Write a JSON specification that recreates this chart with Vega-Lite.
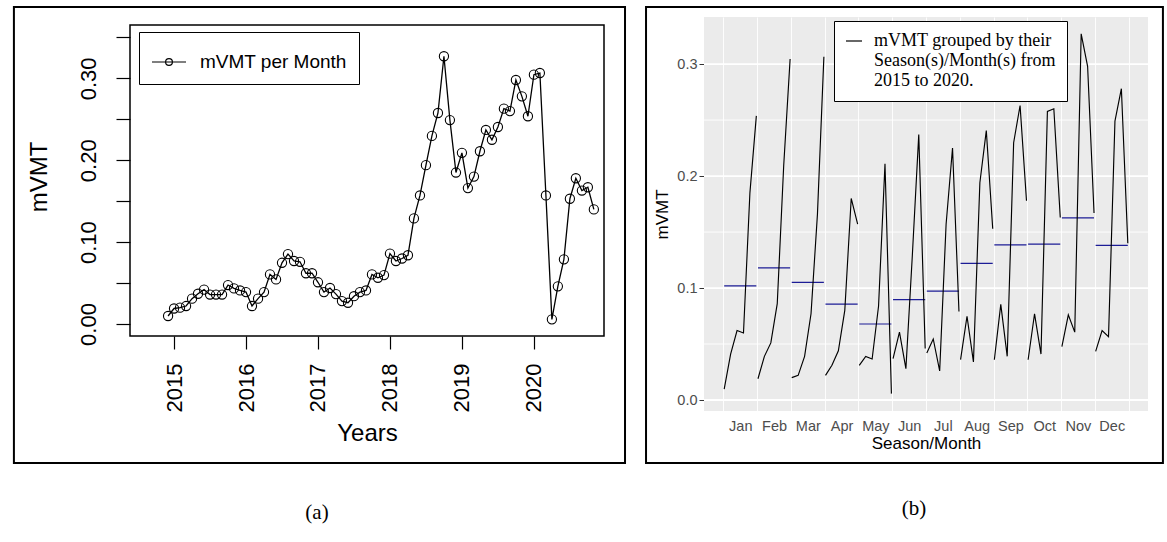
{
  "$schema": "https://vega.github.io/schema/vega-lite/v6.json",
  "background": "white",
  "padding": {"left": 12, "top": 6, "right": 0, "bottom": 0},
  "spacing": 100,
  "bounds": "flush",
  "datasets": {
    "m": [
      {"t": 2014.917, "month": "Jan", "year": 2015, "v": 0.0098},
      {"t": 2015.0, "month": "Feb", "year": 2015, "v": 0.019},
      {"t": 2015.083, "month": "Mar", "year": 2015, "v": 0.020},
      {"t": 2015.167, "month": "Apr", "year": 2015, "v": 0.022},
      {"t": 2015.25, "month": "May", "year": 2015, "v": 0.031},
      {"t": 2015.333, "month": "Jun", "year": 2015, "v": 0.037},
      {"t": 2015.417, "month": "Jul", "year": 2015, "v": 0.042},
      {"t": 2015.5, "month": "Aug", "year": 2015, "v": 0.036},
      {"t": 2015.583, "month": "Sep", "year": 2015, "v": 0.036},
      {"t": 2015.667, "month": "Oct", "year": 2015, "v": 0.036},
      {"t": 2015.75, "month": "Nov", "year": 2015, "v": 0.0476},
      {"t": 2015.833, "month": "Dec", "year": 2015, "v": 0.0435},
      {"t": 2015.917, "month": "Jan", "year": 2016, "v": 0.041},
      {"t": 2016.0, "month": "Feb", "year": 2016, "v": 0.039},
      {"t": 2016.083, "month": "Mar", "year": 2016, "v": 0.022},
      {"t": 2016.167, "month": "Apr", "year": 2016, "v": 0.031},
      {"t": 2016.25, "month": "May", "year": 2016, "v": 0.039},
      {"t": 2016.333, "month": "Jun", "year": 2016, "v": 0.0606},
      {"t": 2016.417, "month": "Jul", "year": 2016, "v": 0.0545},
      {"t": 2016.5, "month": "Aug", "year": 2016, "v": 0.0748},
      {"t": 2016.583, "month": "Sep", "year": 2016, "v": 0.0854},
      {"t": 2016.667, "month": "Oct", "year": 2016, "v": 0.077},
      {"t": 2016.75, "month": "Nov", "year": 2016, "v": 0.076},
      {"t": 2016.833, "month": "Dec", "year": 2016, "v": 0.062},
      {"t": 2016.917, "month": "Jan", "year": 2017, "v": 0.062},
      {"t": 2017.0, "month": "Feb", "year": 2017, "v": 0.051},
      {"t": 2017.083, "month": "Mar", "year": 2017, "v": 0.039},
      {"t": 2017.167, "month": "Apr", "year": 2017, "v": 0.044},
      {"t": 2017.25, "month": "May", "year": 2017, "v": 0.0366},
      {"t": 2017.333, "month": "Jun", "year": 2017, "v": 0.028},
      {"t": 2017.417, "month": "Jul", "year": 2017, "v": 0.026},
      {"t": 2017.5, "month": "Aug", "year": 2017, "v": 0.034},
      {"t": 2017.583, "month": "Sep", "year": 2017, "v": 0.039},
      {"t": 2017.667, "month": "Oct", "year": 2017, "v": 0.041},
      {"t": 2017.75, "month": "Nov", "year": 2017, "v": 0.0606},
      {"t": 2017.833, "month": "Dec", "year": 2017, "v": 0.0565},
      {"t": 2017.917, "month": "Jan", "year": 2018, "v": 0.0598},
      {"t": 2018.0, "month": "Feb", "year": 2018, "v": 0.086},
      {"t": 2018.083, "month": "Mar", "year": 2018, "v": 0.077},
      {"t": 2018.167, "month": "Apr", "year": 2018, "v": 0.080},
      {"t": 2018.25, "month": "May", "year": 2018, "v": 0.084},
      {"t": 2018.333, "month": "Jun", "year": 2018, "v": 0.129},
      {"t": 2018.417, "month": "Jul", "year": 2018, "v": 0.157},
      {"t": 2018.5, "month": "Aug", "year": 2018, "v": 0.194},
      {"t": 2018.583, "month": "Sep", "year": 2018, "v": 0.2297},
      {"t": 2018.667, "month": "Oct", "year": 2018, "v": 0.2577},
      {"t": 2018.75, "month": "Nov", "year": 2018, "v": 0.327},
      {"t": 2018.833, "month": "Dec", "year": 2018, "v": 0.249},
      {"t": 2018.917, "month": "Jan", "year": 2019, "v": 0.185},
      {"t": 2019.0, "month": "Feb", "year": 2019, "v": 0.209},
      {"t": 2019.083, "month": "Mar", "year": 2019, "v": 0.166},
      {"t": 2019.167, "month": "Apr", "year": 2019, "v": 0.180},
      {"t": 2019.25, "month": "May", "year": 2019, "v": 0.211},
      {"t": 2019.333, "month": "Jun", "year": 2019, "v": 0.237},
      {"t": 2019.417, "month": "Jul", "year": 2019, "v": 0.225},
      {"t": 2019.5, "month": "Aug", "year": 2019, "v": 0.2406},
      {"t": 2019.583, "month": "Sep", "year": 2019, "v": 0.263},
      {"t": 2019.667, "month": "Oct", "year": 2019, "v": 0.260},
      {"t": 2019.75, "month": "Nov", "year": 2019, "v": 0.298},
      {"t": 2019.833, "month": "Dec", "year": 2019, "v": 0.278},
      {"t": 2019.917, "month": "Jan", "year": 2020, "v": 0.2537},
      {"t": 2020.0, "month": "Feb", "year": 2020, "v": 0.3045},
      {"t": 2020.083, "month": "Mar", "year": 2020, "v": 0.3065},
      {"t": 2020.167, "month": "Apr", "year": 2020, "v": 0.157},
      {"t": 2020.25, "month": "May", "year": 2020, "v": 0.0057},
      {"t": 2020.333, "month": "Jun", "year": 2020, "v": 0.046},
      {"t": 2020.417, "month": "Jul", "year": 2020, "v": 0.079},
      {"t": 2020.5, "month": "Aug", "year": 2020, "v": 0.153},
      {"t": 2020.583, "month": "Sep", "year": 2020, "v": 0.178},
      {"t": 2020.667, "month": "Oct", "year": 2020, "v": 0.163},
      {"t": 2020.75, "month": "Nov", "year": 2020, "v": 0.167},
      {"t": 2020.833, "month": "Dec", "year": 2020, "v": 0.140}
    ]
  },
  "resolve": {"scale": {"color": "independent"}, "legend": {"color": "independent"}},
  "hconcat": [
    {
      "width": 474,
      "height": 319,
      "view": {"stroke": null, "fill": "white"},
      "title": {"text": "(a)", "orient": "bottom", "frame": "group", "anchor": "middle", "dx": -50, "font": "Liberation Serif", "fontSize": 21, "fontWeight": "normal", "color": "black", "offset": 38},
      "layer": [
        {
          "data": {"values": [{}]},
          "mark": {"type": "rect", "fill": "white", "fillOpacity": 0, "stroke": "black", "strokeWidth": 2},
          "encoding": {
            "x": {"datum": 2012.775, "type": "quantitative"},
            "x2": {"datum": 2021.266},
            "y": {"datum": 0.3871, "type": "quantitative"},
            "y2": {"datum": -0.1697}
          }
        },
        {
          "data": {"values": [{}]},
          "mark": {"type": "rect", "fill": "white", "fillOpacity": 0, "stroke": "black", "strokeWidth": 2},
          "encoding": {
            "x": {"datum": 2021.558, "type": "quantitative"},
            "x2": {"datum": 2028.740},
            "y": {"datum": 0.3871, "type": "quantitative"},
            "y2": {"datum": -0.1697}
          }
        },
        {
          "data": {"values": [{}]},
          "mark": {"type": "rect", "fill": "white", "fillOpacity": 0, "stroke": "black", "strokeWidth": 1.5},
          "encoding": {
            "x": {"datum": 2014.388, "type": "quantitative"},
            "x2": {"datum": 2020.974},
            "y": {"datum": 0.3651, "type": "quantitative"},
            "y2": {"datum": -0.0146}
          }
        },
        {
          "data": {"name": "m"},
          "mark": {"type": "line", "strokeWidth": 1.3},
          "encoding": {
            "x": {
              "field": "t", "type": "quantitative",
              "scale": {"domain": [2014.388, 2020.974], "nice": false, "zero": false},
              "axis": {
                "values": [2015, 2016, 2017, 2018, 2019, 2020], "format": "d",
                "labelAngle": 270, "labelFont": "Liberation Sans", "labelFontSize": 22, "labelColor": "black",
                "labelPadding": 14, "labelOverlap": false, "labelFlush": false,
                "tickSize": 13, "tickColor": "black", "tickWidth": 1.2,
                "domain": false, "grid": false,
                "title": "Years", "titleFont": "Liberation Sans", "titleFontSize": 24, "titleFontWeight": "normal", "titleColor": "black", "titlePadding": 10
              }
            },
            "y": {
              "field": "v", "type": "quantitative",
              "scale": {"domain": [-0.0146, 0.3749], "nice": false, "zero": false},
              "axis": {
                "values": [0, 0.05, 0.1, 0.15, 0.2, 0.25, 0.3, 0.35],
                "labelExpr": "round(datum.value*20) % 2 == 0 ? format(datum.value, '.2f') : ''",
                "labelAngle": 270, "labelAlign": "center", "labelBaseline": "bottom",
                "labelFont": "Liberation Sans", "labelFontSize": 22, "labelColor": "black",
                "labelPadding": 16, "labelOverlap": false, "labelFlush": false,
                "tickSize": 14, "tickColor": "black", "tickWidth": 1.2,
                "domain": false, "grid": false,
                "title": "mVMT", "titleFont": "Liberation Sans", "titleFontSize": 24, "titleFontWeight": "normal", "titleColor": "black", "titlePadding": 26
              }
            },
            "color": {
              "datum": "mVMT per Month", "type": "nominal",
              "scale": {"range": ["black"]},
              "legend": {
                "title": null, "orient": "none", "legendX": 9, "legendY": 15,
                "strokeColor": "black", "fillColor": "white", "padding": 12,
                "symbolType": "M-1,0L1,0M0.2,0A0.2,0.2,0,1,0,-0.2,0A0.2,0.2,0,1,0,0.2,0",
                "symbolSize": 1156, "symbolStrokeWidth": 1.2, "symbolStrokeColor": "black", "symbolFillColor": "transparent",
                "labelFont": "Liberation Sans", "labelFontSize": 19, "labelColor": "black", "labelOffset": 13, "labelLimit": 400
              }
            }
          }
        },
        {
          "data": {"name": "m"},
          "mark": {"type": "point", "shape": "circle", "filled": false, "size": 85, "strokeWidth": 1.1, "opacity": 1},
          "encoding": {
            "x": {"field": "t", "type": "quantitative"},
            "y": {"field": "v", "type": "quantitative"},
            "color": {"datum": "mVMT per Month", "type": "nominal"}
          }
        }
      ]
    },
    {
      "width": 444,
      "height": 394,
      "view": {"stroke": null, "fill": "#EBEBEB"},
      "title": {"text": "(b)", "orient": "bottom", "frame": "group", "anchor": "middle", "dx": -12, "font": "Liberation Serif", "fontSize": 21, "fontWeight": "normal", "color": "black", "offset": 46},
      "layer": [
        {
          "data": {"values": [{"g": 0.05}, {"g": 0.15}, {"g": 0.25}]},
          "mark": {"type": "rule", "color": "white", "strokeWidth": 0.9},
          "encoding": {
            "y": {
              "field": "g", "type": "quantitative",
              "scale": {"domain": [-0.0098, 0.342], "nice": false, "zero": false},
              "axis": {
                "tickCount": 7,
                "labelExpr": "round(datum.value*20) % 2 == 0 ? format(datum.value, '.1f') : ''",
                "grid": false,
                "tickOpacity": {"condition": {"test": "round(datum.value*20) % 2 == 0", "value": 1}, "value": 0},
                "tickColor": "#333333", "tickSize": 5, "tickWidth": 1,
                "domain": false,
                "labelColor": "#4D4D4D", "labelFont": "Liberation Sans", "labelFontSize": 14.5, "labelPadding": 2,
                "title": "mVMT", "titleFont": "Liberation Sans", "titleFontSize": 17, "titleFontWeight": "normal", "titleColor": "black", "titlePadding": 5
              }
            }
          }
        },
        {
          "data": {"values": [{"g": 0}, {"g": 0.1}, {"g": 0.2}, {"g": 0.3}]},
          "mark": {"type": "rule", "color": "white", "strokeWidth": 1.8},
          "encoding": {
            "y": {
              "field": "g", "type": "quantitative",
              "scale": {"domain": [-0.0098, 0.342], "nice": false, "zero": false},
              "axis": {
                "tickCount": 7,
                "labelExpr": "round(datum.value*20) % 2 == 0 ? format(datum.value, '.1f') : ''",
                "grid": false,
                "tickOpacity": {"condition": {"test": "round(datum.value*20) % 2 == 0", "value": 1}, "value": 0},
                "tickColor": "#333333", "tickSize": 5, "tickWidth": 1,
                "domain": false,
                "labelColor": "#4D4D4D", "labelFont": "Liberation Sans", "labelFontSize": 14.5, "labelPadding": 2,
                "title": "mVMT", "titleFont": "Liberation Sans", "titleFontSize": 17, "titleFontWeight": "normal", "titleColor": "black", "titlePadding": 5
              }
            }
          }
        },
        {
          "data": {"name": "m"},
          "transform": [{"joinaggregate": [{"op": "mean", "field": "v", "as": "avg"}], "groupby": ["month"]}],
          "mark": {"type": "line", "color": "#1C1C96", "strokeWidth": 1.2},
          "encoding": {
            "x": {
              "field": "month", "type": "ordinal",
              "sort": ["Jan", "Feb", "Mar", "Apr", "May", "Jun", "Jul", "Aug", "Sep", "Oct", "Nov", "Dec"],
              "scale": {"type": "band", "paddingInner": 0, "paddingOuter": 0.574},
              "axis": {
                "orient": "bottom", "tickBand": "extent", "grid": true, "gridColor": "white", "gridWidth": 0.9,
                "domain": false, "ticks": false,
                "labelColor": "#4D4D4D", "labelFont": "Liberation Sans", "labelFontSize": 14.5, "labelPadding": 8, "labelAngle": 0,
                "title": "Season/Month", "titleFont": "Liberation Sans", "titleFontSize": 17, "titleFontWeight": "normal", "titleColor": "black", "titlePadding": 3
              }
            },
            "xOffset": {"field": "year", "type": "ordinal", "scale": {"type": "point", "padding": 0.126}},
            "y": {
              "field": "avg", "type": "quantitative",
              "scale": {"domain": [-0.0098, 0.342], "nice": false, "zero": false},
              "axis": {
                "tickCount": 7,
                "labelExpr": "round(datum.value*20) % 2 == 0 ? format(datum.value, '.1f') : ''",
                "grid": false,
                "tickOpacity": {"condition": {"test": "round(datum.value*20) % 2 == 0", "value": 1}, "value": 0},
                "tickColor": "#333333", "tickSize": 5, "tickWidth": 1,
                "domain": false,
                "labelColor": "#4D4D4D", "labelFont": "Liberation Sans", "labelFontSize": 14.5, "labelPadding": 2,
                "title": "mVMT", "titleFont": "Liberation Sans", "titleFontSize": 17, "titleFontWeight": "normal", "titleColor": "black", "titlePadding": 5
              }
            },
            "detail": {"field": "month"},
            "order": {"field": "year"}
          }
        },
        {
          "data": {"name": "m"},
          "mark": {"type": "line", "strokeWidth": 1.15},
          "encoding": {
            "x": {
              "field": "month", "type": "ordinal",
              "sort": ["Jan", "Feb", "Mar", "Apr", "May", "Jun", "Jul", "Aug", "Sep", "Oct", "Nov", "Dec"],
              "scale": {"type": "band", "paddingInner": 0, "paddingOuter": 0.574},
              "axis": {
                "orient": "bottom", "tickBand": "extent", "grid": true, "gridColor": "white", "gridWidth": 0.9,
                "domain": false, "ticks": false,
                "labelColor": "#4D4D4D", "labelFont": "Liberation Sans", "labelFontSize": 14.5, "labelPadding": 8, "labelAngle": 0,
                "title": "Season/Month", "titleFont": "Liberation Sans", "titleFontSize": 17, "titleFontWeight": "normal", "titleColor": "black", "titlePadding": 3
              }
            },
            "xOffset": {"field": "year", "type": "ordinal", "scale": {"type": "point", "padding": 0.126}},
            "y": {
              "field": "v", "type": "quantitative",
              "scale": {"domain": [-0.0098, 0.342], "nice": false, "zero": false},
              "axis": {
                "tickCount": 7,
                "labelExpr": "round(datum.value*20) % 2 == 0 ? format(datum.value, '.1f') : ''",
                "grid": false,
                "tickOpacity": {"condition": {"test": "round(datum.value*20) % 2 == 0", "value": 1}, "value": 0},
                "tickColor": "#333333", "tickSize": 5, "tickWidth": 1,
                "domain": false,
                "labelColor": "#4D4D4D", "labelFont": "Liberation Sans", "labelFontSize": 14.5, "labelPadding": 2,
                "title": "mVMT", "titleFont": "Liberation Sans", "titleFontSize": 17, "titleFontWeight": "normal", "titleColor": "black", "titlePadding": 5
              }
            },
            "color": {
              "datum": "mVMT grouped by their Season(s)/Month(s) from 2015 to 2020.", "type": "nominal",
              "scale": {"range": ["black"]},
              "legend": {
                "title": null, "orient": "none", "legendX": 130, "legendY": 4,
                "strokeColor": "black", "fillColor": "white", "padding": 11,
                "symbolType": "stroke", "symbolSize": 256, "symbolStrokeWidth": 1.2,
                "labelFont": "Liberation Serif", "labelFontSize": 18, "labelColor": "black", "labelOffset": 11, "labelLimit": 400,
                "labelExpr": "['mVMT grouped by their', 'Season(s)/Month(s) from', '2015 to 2020.']"
              }
            },
            "detail": {"field": "month"},
            "order": {"field": "year"}
          }
        }
      ]
    }
  ]
}
